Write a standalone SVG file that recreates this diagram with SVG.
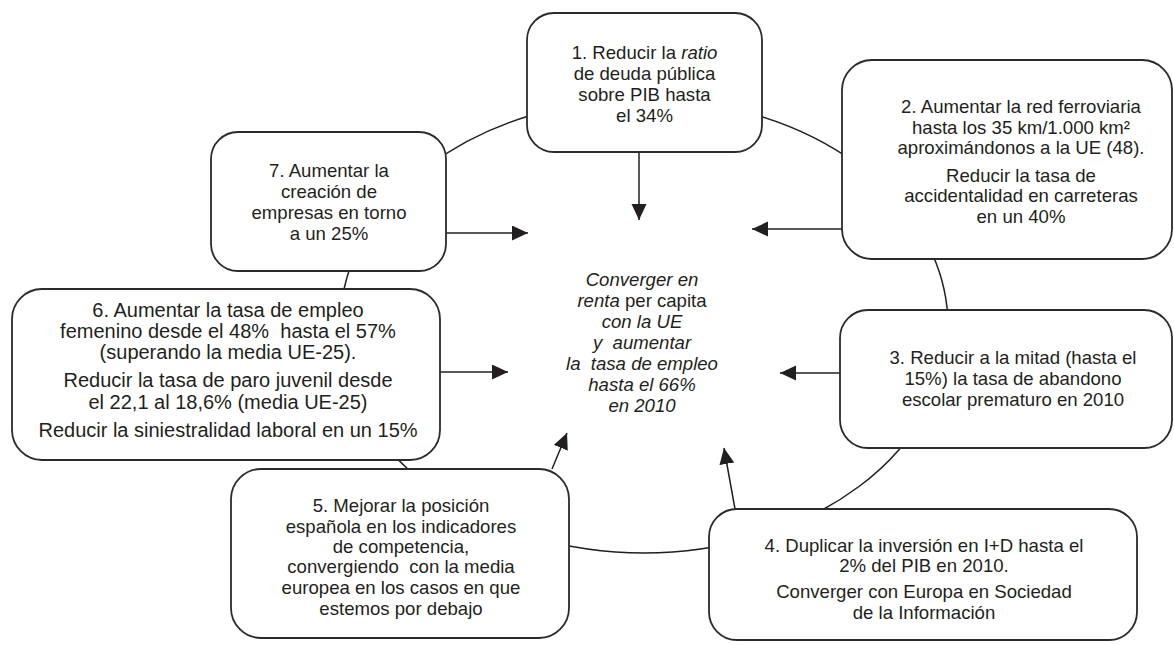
<svg xmlns="http://www.w3.org/2000/svg" width="1174" height="645" viewBox="0 0 1174 645">
<style>
  .box { fill: #ffffff; stroke: #2b2b2b; stroke-width: 1.8; }
  .ring { fill: none; stroke: #231f20; stroke-width: 1.5; }
  .conn { stroke: #231f20; stroke-width: 1.5; fill: none; }
  text { font-family: "Liberation Sans", Arial, sans-serif; font-size: 18.6px; fill: #231f20; text-anchor: middle; }
  .big { font-size: 20px; }
  .it { font-style: italic; }
</style>
<defs>
  <marker id="ah" markerUnits="userSpaceOnUse" markerWidth="17" markerHeight="16" refX="16" refY="7.5" orient="auto">
    <path d="M0,0 L16,7.5 L0,15 Z" fill="#231f20"/>
  </marker>
</defs>
<rect width="1174" height="645" fill="#ffffff"/>
<ellipse class="ring" cx="644" cy="326" rx="304" ry="227"/>
<g id="connectors">
  <line class="conn" x1="639" y1="152" x2="639" y2="220" marker-end="url(#ah)"/>
  <line class="conn" x1="842" y1="229" x2="752" y2="229" marker-end="url(#ah)"/>
  <line class="conn" x1="840" y1="373" x2="780" y2="373" marker-end="url(#ah)"/>
  <line class="conn" x1="735" y1="509" x2="724" y2="448" marker-end="url(#ah)"/>
  <line class="conn" x1="552" y1="469" x2="567" y2="433" marker-end="url(#ah)"/>
  <line class="conn" x1="440" y1="372" x2="508" y2="372" marker-end="url(#ah)"/>
  <line class="conn" x1="446" y1="233" x2="528" y2="233" marker-end="url(#ah)"/>
</g>
<g id="center">
  <text x="642" y="286" xml:space="preserve"><tspan class="it">Converger en</tspan></text>
  <text x="642" y="307" xml:space="preserve"><tspan class="it">renta</tspan> per capita</text>
  <text x="642" y="328" xml:space="preserve" class="it">con la UE</text>
  <text x="642" y="349" xml:space="preserve" class="it">y  aumentar</text>
  <text x="642" y="370" xml:space="preserve" class="it">la  tasa de empleo</text>
  <text x="642" y="391" xml:space="preserve" class="it">hasta el 66%</text>
  <text x="642" y="412" xml:space="preserve" class="it">en 2010</text>
</g>
<g id="node1">
  <rect class="box" x="527" y="13" width="235" height="139" rx="27"/>
  <text x="644.5" y="59">1. Reducir la <tspan class="it">ratio</tspan></text>
  <text x="644.5" y="80">de deuda pública</text>
  <text x="644.5" y="100.5">sobre PIB hasta</text>
  <text x="644.5" y="121.5">el 34%</text>
</g>
<g id="node2">
  <rect class="box" x="842" y="60" width="330" height="199" rx="30"/>
  <text x="1021" y="113">2. Aumentar la red ferroviaria</text>
  <text x="1021" y="134">hasta los 35 km/1.000 km²</text>
  <text x="1021" y="154">aproximándonos a la UE (48).</text>
  <text x="1021" y="182">Reducir la tasa de</text>
  <text x="1021" y="202">accidentalidad en carreteras</text>
  <text x="1021" y="223">en un 40%</text>
</g>
<g id="node3">
  <rect class="box" x="840" y="310" width="332" height="138" rx="28"/>
  <text x="1013" y="364">3. Reducir a la mitad (hasta el</text>
  <text x="1013" y="385">15%) la tasa de abandono</text>
  <text x="1013" y="406">escolar prematuro en 2010</text>
</g>
<g id="node4">
  <rect class="box" x="709" y="509" width="428" height="131" rx="28"/>
  <text x="924" y="552">4. Duplicar la inversión en I+D hasta el</text>
  <text x="924" y="572">2% del PIB en 2010.</text>
  <text x="924" y="598">Converger con Europa en Sociedad</text>
  <text x="924" y="619">de la Información</text>
</g>
<g id="node5">
  <rect class="box" x="231" y="469" width="338" height="169" rx="30"/>
  <text x="401" y="512">5. Mejorar la posición</text>
  <text x="401" y="533">española en los indicadores</text>
  <text x="401" y="553">de competencia,</text>
  <text x="401" y="573" xml:space="preserve">convergiendo  con la media</text>
  <text x="401" y="594">europea en los casos en que</text>
  <text x="401" y="615">estemos por debajo</text>
</g>
<g id="node6">
  <rect class="box" x="12" y="289" width="428" height="171" rx="30"/>
  <text class="big" x="228" y="317">6. Aumentar la tasa de empleo</text>
  <text class="big" x="228" y="338" xml:space="preserve">femenino desde el 48%  hasta el 57%</text>
  <text class="big" x="228" y="359">(superando la media UE-25).</text>
  <text class="big" x="228" y="387">Reducir la tasa de paro juvenil desde</text>
  <text class="big" x="228" y="409">el 22,1 al 18,6% (media UE-25)</text>
  <text class="big" x="228" y="437">Reducir la siniestralidad laboral en un 15%</text>
</g>
<g id="node7">
  <rect class="box" x="211" y="132" width="235" height="139" rx="27"/>
  <text x="329" y="177">7. Aumentar la</text>
  <text x="329" y="198">creación de</text>
  <text x="329" y="219">empresas en torno</text>
  <text x="329" y="240">a un 25%</text>
</g>
</svg>
